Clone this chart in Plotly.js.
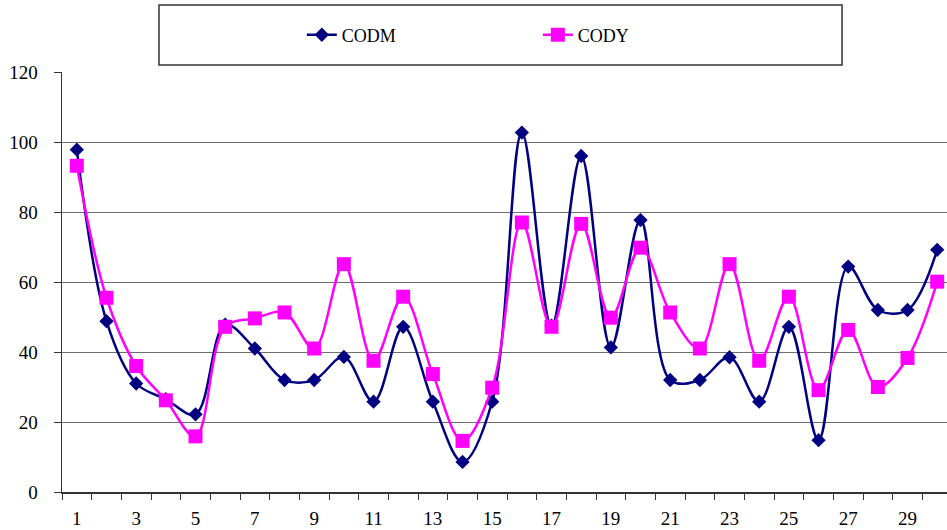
<!DOCTYPE html>
<html>
<head>
<meta charset="utf-8">
<script src="https://cdn.plot.ly/plotly-3.0.1.min.js"></script>
<style>
html,body{margin:0;padding:0;background:#fff;}
#chart{width:947px;height:530px;}
</style>
</head>
<body>
<div id="chart"></div>
<script>
const days = [1,2,3,4,5,6,7,8,9,10,11,12,13,14,15,16,17,18,19,20,21,22,23,24,25,26,27,28,29,30];
const codm = [97.8,48.8,31.0,26.5,22.2,47.8,41.0,32.0,32.0,38.6,25.8,47.2,25.8,8.6,25.8,102.7,47.5,96.0,41.3,77.7,32.0,32.0,38.5,25.8,47.2,14.8,64.4,52.0,52.0,69.2];
const cody = [93.2,55.5,36.0,26.2,15.9,47.2,49.6,51.3,41.0,65.1,37.5,55.8,33.7,14.6,29.8,77.0,47.2,76.6,49.8,69.8,51.3,41.0,65.1,37.5,55.8,29.1,46.3,30.0,38.3,60.1];
const xTickVals = [1,3,5,7,9,11,13,15,17,19,21,23,25,27,29];
const xTickText = xTickVals.map(String);
const yTickVals = [0,20,40,60,80,100,120];

const FONT = 'Liberation Serif, Times New Roman, serif';

const traces = [
  {
    x: days, y: codm, name: 'CODM', type: 'scatter', mode: 'lines+markers',
    line: {color: '#000080', width: 2.5, shape: 'spline', smoothing: 1},
    marker: {symbol: 'diamond', size: 11, color: '#000080'}
  },
  {
    x: days, y: cody, name: 'CODY', type: 'scatter', mode: 'lines+markers',
    line: {color: '#FF00FF', width: 2.5, shape: 'spline', smoothing: 1},
    marker: {symbol: 'square', size: 14, color: '#FF00FF'}
  }
];

const layout = {
  width: 947, height: 530,
  margin: {l: 62, r: 0, t: 72, b: 38},
  paper_bgcolor: '#ffffff', plot_bgcolor: '#ffffff',
  font: {family: FONT, size: 18, color: '#000'},
  showlegend: true,
  legend: {
    orientation: 'h', x: 0.271, xanchor: 'left', y: 1.088, yanchor: 'middle',
    entrywidth: 191, entrywidthmode: 'pixels',
    font: {family: FONT, size: 18, color: '#000'},
    bgcolor: 'rgba(0,0,0,0)', borderwidth: 0
  },
  xaxis: {
    type: 'linear', range: [0.5, 30.33], fixedrange: true,
    tickmode: 'array', tickvals: xTickVals, ticktext: xTickText,
    ticks: '', showgrid: false, zeroline: false,
    showline: true, linecolor: '#333', linewidth: 1.5,
    tickfont: {family: FONT, size: 19, color: '#000'},
    ticklabelstandoff: 9,
    minor: {tickmode: 'linear', tick0: 0.5, dtick: 1, ticks: 'outside', ticklen: 6, tickcolor: '#333', tickwidth: 1, showgrid: false}
  },
  yaxis: {
    range: [0, 120], fixedrange: true,
    tickmode: 'array', tickvals: yTickVals,
    ticks: 'outside', ticklen: 7, tickcolor: '#333', tickwidth: 1,
    showgrid: true, gridcolor: '#6e6e6e', gridwidth: 1,
    zeroline: false, showline: true, linecolor: '#333', linewidth: 1.5,
    tickfont: {family: FONT, size: 19, color: '#000'},
    ticklabelstandoff: 12
  },
  shapes: [
    {type: 'rect', xref: 'paper', yref: 'paper', x0: 0.1096, x1: 0.8814, y0: 1.0167, y1: 1.1595,
     line: {color: '#333', width: 1.5}, fillcolor: 'rgba(0,0,0,0)'}
  ]
};

Plotly.newPlot('chart', traces, layout, {displayModeBar: false, staticPlot: true});
</script>
</body>
</html>
